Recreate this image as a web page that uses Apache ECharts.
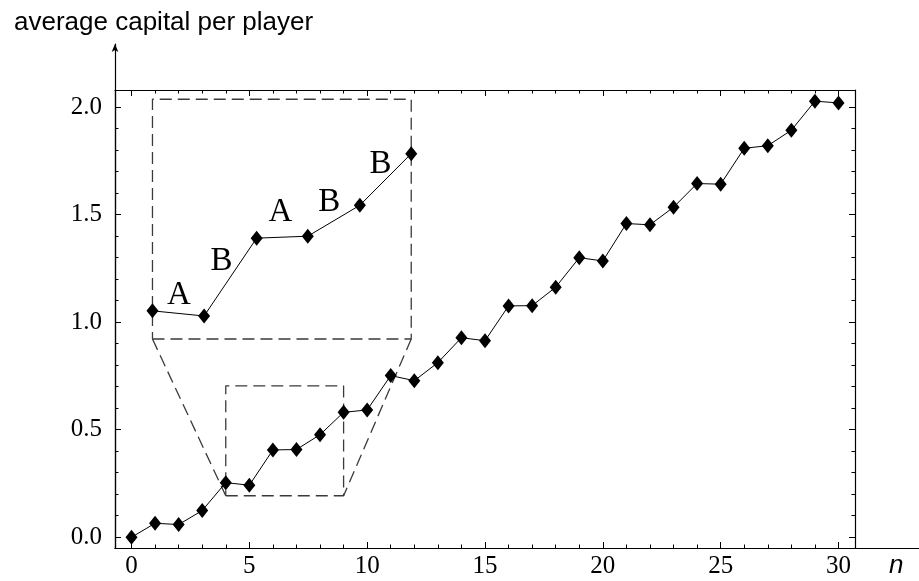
<!DOCTYPE html>
<html><head><meta charset="utf-8">
<script src="https://cdn.jsdelivr.net/npm/echarts@6/dist/echarts.min.js"></script>
<style>html,body{margin:0;padding:0;background:#fff}#c{width:919px;height:581px}</style>
</head><body><div id="c"></div>
<script>
// ---- data ----
const nValues = [0,1,2,3,4,5,6,7,8,9,10,11,12,13,14,15,16,17,18,19,20,21,22,23,24,25,26,27,28,29,30];
const capital = [0.000,0.065,0.059,0.124,0.254,0.242,0.406,0.408,0.477,0.581,0.592,0.752,0.728,0.812,0.928,0.914,1.076,1.077,1.163,1.300,1.285,1.459,1.453,1.535,1.645,1.642,1.809,1.821,1.893,2.028,2.020];
// magnified inset (n = 4..9 redrawn larger)
const insetN = [0.89,3.08,5.31,7.48,9.69,11.87];
const insetCapital = [1.053,1.029,1.391,1.400,1.544,1.784];
const insetLabels = ['A','B','A','B','B'];
const labelN = [2.01,3.82,6.32,8.39,10.57];
const labelCapital = [1.127,1.282,1.510,1.558,1.735];
// zoom boxes
const zoomBoxN = [4,9];
const zoomBoxCapital = [0.193,0.704];
const insetBoxN = [0.89,11.87];
const insetBoxCapital = [0.922,2.037];
// ticks
const xTickLabels = [0,5,10,15,20,25,30];
const yTickLabels = [0,0.5,1.0,1.5,2.0];
const xMinorTicks = [1,2,3,4,6,7,8,9,11,12,13,14,16,17,18,19,21,22,23,24,26,27,28,29];
const yMinorTicks = [0.1,0.2,0.3,0.4,0.6,0.7,0.8,0.9,1.1,1.2,1.3,1.4,1.6,1.7,1.8,1.9];
const yTitle = 'average capital per player';
const xTitle = 'n';

const X_MIN = -0.7, X_MAX = 30.7, Y_MIN = -0.05, Y_MAX = 2.08;
const SERIF = 'Liberation Serif';
const SANS = 'Liberation Sans';
const ink = '#000';
const dashColor = '#3a3a3a';

function xAxisDef(pos, ticks, len, withLabel, showLine) {
  return {
    type: 'value', gridIndex: 0, position: pos, min: X_MIN, max: X_MAX,
    axisLine: { show: showLine, onZero: false, lineStyle: { color: ink, width: 1.2 } },
    axisTick: { show: true, inside: true, length: len, customValues: ticks, lineStyle: { color: ink, width: 1 } },
    axisLabel: withLabel ? { show: true, customValues: ticks, margin: 6, color: ink, fontFamily: SERIF, fontSize: 25 } : { show: false },
    splitLine: { show: false }
  };
}
function yAxisDef(pos, ticks, len, withLabel, showLine) {
  return {
    type: 'value', gridIndex: 0, position: pos, min: Y_MIN, max: Y_MAX,
    axisLine: { show: showLine, onZero: false, lineStyle: { color: ink, width: 1.2 } },
    axisTick: { show: true, inside: true, length: len, customValues: ticks, lineStyle: { color: ink, width: 1 } },
    axisLabel: withLabel ? { show: true, customValues: ticks, margin: 13, color: ink, fontFamily: SERIF, fontSize: 25,
      formatter: v => Number(v).toFixed(1) } : { show: false },
    splitLine: { show: false }
  };
}

const mainData = nValues.map((n, i) => [n, capital[i]]);
const insetData = insetN.map((n, i) => [n, insetCapital[i]]);
const labelData = insetLabels.map((t, i) => ({ name: t, value: [labelN[i], labelCapital[i]] }));
const box = (bx, by) => [[bx[0], by[0]], [bx[1], by[0]], [bx[1], by[1]], [bx[0], by[1]], [bx[0], by[0]]];
const connLeft = [[insetBoxN[0], insetBoxCapital[0]], [zoomBoxN[0], zoomBoxCapital[0]]];
const connRight = [[insetBoxN[1], insetBoxCapital[0]], [zoomBoxN[1], zoomBoxCapital[0]]];

const dashed = { color: dashColor, width: 1.3, type: [12, 6] };
const lineSeries = (data, style) => ({
  type: 'line', xAxisIndex: 0, yAxisIndex: 0, data, symbol: 'none', silent: true,
  lineStyle: style, z: 2, animation: false
});

const chart = echarts.init(document.getElementById('c'), null, { renderer: 'canvas' });
chart.setOption({
  animation: false,
  backgroundColor: '#fff',
  title: { text: yTitle, left: 9, top: 5, textStyle: { fontFamily: SANS, fontSize: 26, fontWeight: 'normal', color: ink } },
  grid: [
    { left: 115, right: 64, top: 90, bottom: 33, containLabel: false },
    { left: 115, right: 0, top: 44, bottom: 33, containLabel: false }
  ],
  xAxis: [
    xAxisDef('bottom', xTickLabels, 6, true, true),
    xAxisDef('bottom', xMinorTicks, 3.5, false, false),
    xAxisDef('top', xTickLabels, 6, false, true),
    xAxisDef('top', xMinorTicks, 3.5, false, false),
    { type: 'value', gridIndex: 1, position: 'bottom', min: 0, max: 1,
      axisLine: { show: true, onZero: false, lineStyle: { color: ink, width: 1.2 } }, axisTick: { show: false }, axisLabel: { show: false }, splitLine: { show: false } }
  ],
  yAxis: [
    yAxisDef('left', yTickLabels, 6, true, true),
    yAxisDef('left', yMinorTicks, 3.5, false, false),
    yAxisDef('right', yTickLabels, 6, false, true),
    yAxisDef('right', yMinorTicks, 3.5, false, false),
    { type: 'value', gridIndex: 1, position: 'left', min: 0, max: 1,
      axisLine: { show: true, onZero: false, symbol: ['none', 'arrow'], symbolSize: [5, 8], lineStyle: { color: ink, width: 1.2 } },
      axisTick: { show: false }, axisLabel: { show: false }, splitLine: { show: false } }
  ],
  graphic: [
    { type: 'text', left: 889, top: 553, style: { text: xTitle, fontFamily: SANS, fontStyle: 'italic', fontSize: 26, fill: ink } }
  ],
  series: [
    lineSeries(box(zoomBoxN, zoomBoxCapital), dashed),
    lineSeries(box(insetBoxN, insetBoxCapital), dashed),
    lineSeries(connLeft, dashed),
    lineSeries(connRight, dashed),
    { type: 'line', xAxisIndex: 0, yAxisIndex: 0, data: mainData, symbol: 'diamond', symbolSize: [12, 15],
      itemStyle: { color: ink }, lineStyle: { color: ink, width: 1 }, z: 5 },
    { type: 'line', xAxisIndex: 0, yAxisIndex: 0, data: insetData, symbol: 'diamond', symbolSize: [12, 15],
      itemStyle: { color: ink }, lineStyle: { color: ink, width: 1 }, z: 5 },
    { type: 'scatter', xAxisIndex: 0, yAxisIndex: 0, data: labelData, symbolSize: 0, silent: true,
      itemStyle: { opacity: 1 },
      label: { show: true, position: 'inside', formatter: p => p.name, fontFamily: SERIF, fontSize: 33,
        color: ink, textBorderWidth: 0, opacity: 1 }, z: 6 }
  ]
});
</script></body></html>
